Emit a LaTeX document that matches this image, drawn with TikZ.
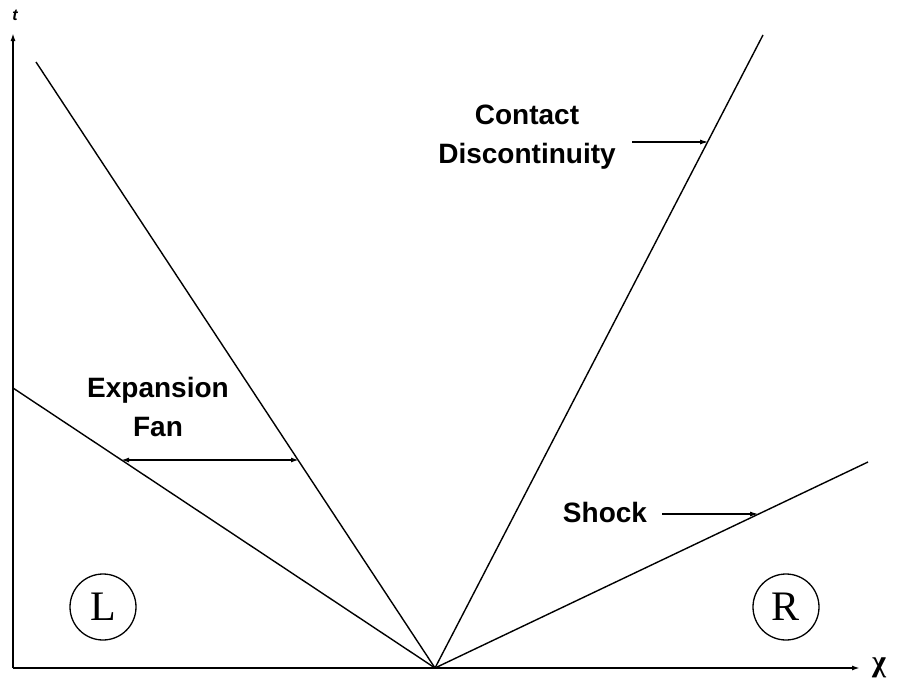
\documentclass[tikz,border=0pt]{standalone}
\usepackage{fontspec}
\setmainfont{Liberation Sans}
\newfontfamily\chifont{Liberation Serif}
\usetikzlibrary{arrows.meta}
\begin{document}
\begin{tikzpicture}[x=1pt,y=-1pt,
  axis/.style={line width=1.8pt,-{Latex[length=8pt,width=5pt]}},
  wave/.style={line width=1.4pt},
  lbl/.style={font=\fontsize{28}{39}\selectfont\bfseries,align=center,inner sep=0pt},
  ptr/.style={line width=1.6pt,-{Latex[length=9pt,width=5pt]}},
  region/.style={circle,draw,line width=1.3pt,minimum size=66pt,inner sep=0pt,font=\fontsize{42}{42}\chifont}]
\useasboundingbox (0,0) rectangle (898,688);
\coordinate (O) at (13,668);
\coordinate (ttip) at (13,33);
\coordinate (xtip) at (860,668);
\coordinate (F) at (435,668);
\coordinate (tail) at (13,388);
\coordinate (head) at (36,62);
\coordinate (cd) at (763,35);
\coordinate (sh) at (868,462);
\draw[axis] (O) -- (ttip);
\draw[axis] (O) -- (xtip);
\node[font=\fontsize{16}{16}\selectfont\itshape\bfseries] (tl) at (15,15) {t};
\node[font=\fontsize{30}{30}\selectfont\chifont\bfseries] (xl) at (879,668) {χ};
\draw[wave] (F) -- (tail);
\draw[wave] (F) -- (head);
\draw[wave] (F) -- (cd);
\draw[wave] (F) -- (sh);
\node[lbl] (exp) at (158,407) {Expansion\\Fan};
\coordinate (fa) at (121,460);
\coordinate (fb) at (299,460);
\draw[line width=1.6pt,{Latex[length=8pt,width=5pt]}-{Latex[length=8pt,width=5pt]}] (fa) -- (fb);
\node[lbl] (cdl) at (527,137) {Contact\\Discontinuity};
\coordinate (cs) at (632,142);
\coordinate (ce) at (709,142);
\draw[ptr] (cs) -- (ce);
\node[lbl] (shl) at (605,512) {Shock};
\coordinate (ss) at (662,514);
\coordinate (se) at (759,514);
\draw[ptr] (ss) -- (se);
\node[region] (L) at (103,607) {L};
\node[region] (R) at (786,607) {R};
\end{tikzpicture}
\end{document}
